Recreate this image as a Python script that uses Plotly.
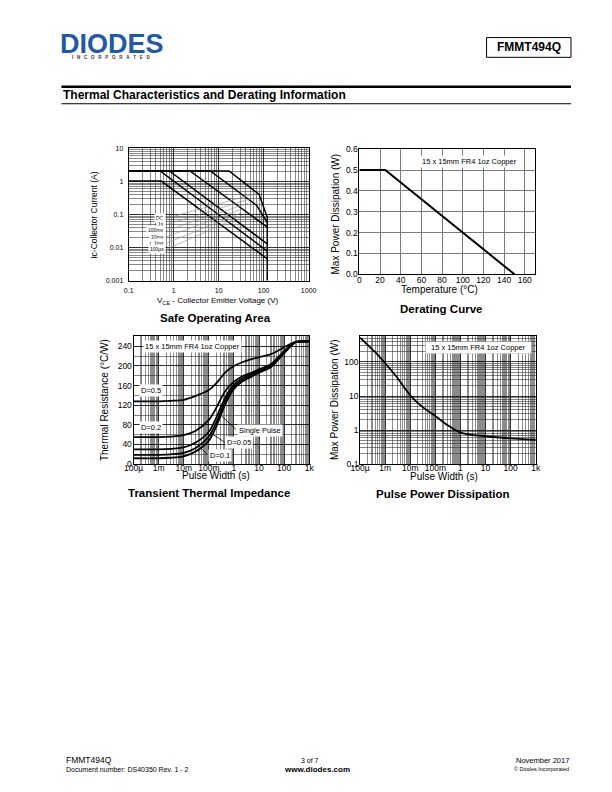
import math
import plotly.graph_objects as go

FONT = "Liberation Sans, Arial, sans-serif"
W, H = 612, 792

# ---------------- data ----------------
# Safe Operating Area (VCE in V, IC in A)
soa_100us_v = [0.1, 17, 79, 107, 120]
soa_100us_i = [2.1, 2.1, 0.41, 0.126, 0.083]
soa_1ms_v = [0.1, 6.5, 70, 120]
soa_1ms_i = [2.1, 2.1, 0.19, 0.057]
soa_10ms_v = [0.1, 2.3, 120]
soa_10ms_i = [2.1, 2.1, 0.042]
soa_100ms_v = [0.1, 0.8, 120]
soa_100ms_i = [2.1, 2.1, 0.013]
soa_1s_v = [0.1, 0.5, 120]
soa_1s_i = [2.1, 2.1, 0.0079]
soa_dc_v = [0.1, 0.53, 120]
soa_dc_i = [1.03, 1.03, 0.0046]
soa_limit_v = [120, 120]
soa_limit_i = [0.083, 0.001]
soa_labels = ["DC", "1s", "100ms", "10ms", "1ms", "100µs"]
soa_xticks = [0.1, 1, 10, 100, 1000]
soa_xtext = ["0.1", "1", "10", "100", "1000"]
soa_yticks = [0.001, 0.01, 0.1, 1, 10]
soa_ytext = ["0.001", "0.01", "0.1", "1", "10"]

# Derating curve
der_temp = [0, 25, 150]
der_power = [0.5, 0.5, 0.0]
der_xticks = [0, 20, 40, 60, 80, 100, 120, 140, 160]
der_yticks = [0.0, 0.1, 0.2, 0.3, 0.4, 0.5, 0.6]

# Transient thermal impedance
tti_t = [1e-4, 1e-3, 3e-3, 1e-2, 3e-2, 0.1, 0.2, 0.3, 0.5, 1, 2, 5, 10, 30, 100, 200, 300, 1000]
tti_d05 = [128, 128, 129, 131, 139, 151, 165, 176, 189, 200, 207, 214, 218, 224, 238, 246, 249, 250]
tti_d02 = [55, 55, 56, 59, 68, 90, 115, 133, 152, 168, 178, 186, 193, 204, 230, 244, 249, 250]
tti_d01 = [30, 30, 31, 34, 44, 66, 95, 116, 140, 162, 174, 183, 190, 201, 228, 243, 249, 250]
tti_d005 = [19, 19, 20, 23, 33, 56, 85, 107, 133, 157, 170, 180, 188, 199, 227, 243, 249, 250]
tti_single = [12, 12, 13, 16, 26, 48, 77, 100, 127, 153, 167, 178, 186, 198, 226, 242, 249, 250]
tti_yticks = [0, 40, 80, 120, 160, 200, 240]

# Pulse power dissipation
ppd_t = [1e-4, 2e-4, 4e-4, 1e-3, 3e-3, 6e-3, 1e-2, 3e-2, 0.1, 0.3, 1, 3, 10, 100, 1000]
ppd_p = [520, 320, 195, 92, 35, 17, 10.5, 4.8, 2.6, 1.4, 0.84, 0.72, 0.66, 0.57, 0.52]
ppd_yticks = [0.1, 1, 10, 100]
ppd_ytext = ["0.1", "1", "10", "100"]

pw_ticks = [1e-4, 1e-3, 1e-2, 1e-1, 1, 10, 100, 1000]
pw_text = ["100µ", "1m", "10m", "100m", "1", "10", "100", "1k"]

board_note = "15 x 15mm FR4 1oz Copper"


# ---------------- helpers ----------------
def PX(x):
    return x / W


def PY(y):
    return 1 - y / H


def minor_log(lo, hi):
    return [m * 10.0 ** e for e in range(lo, hi) for m in range(2, 10)]


def log_axis(dom, rng, tv, tt, minors, anchor, gridc, minorc, minorw, standoff, fs=8):
    return dict(type="log", domain=dom, range=rng, anchor=anchor,
                tickmode="array", tickvals=tv, ticktext=tt, ticks="",
                showline=True, linecolor="black", linewidth=1, mirror=True,
                showgrid=True, gridcolor=gridc, gridwidth=0.8, zeroline=False,
                minor=dict(tickmode="array", tickvals=minors, showgrid=True,
                           gridcolor=minorc, gridwidth=minorw, ticks=""),
                tickfont=dict(size=fs, color="black", family=FONT),
                ticklabelstandoff=standoff, fixedrange=True)


fig = go.Figure()
line = dict(color="black", width=1.5)

# SOA traces
for v, i in [(soa_100us_v, soa_100us_i), (soa_1ms_v, soa_1ms_i), (soa_10ms_v, soa_10ms_i),
             (soa_100ms_v, soa_100ms_i), (soa_1s_v, soa_1s_i), (soa_dc_v, soa_dc_i),
             (soa_limit_v, soa_limit_i)]:
    fig.add_trace(go.Scatter(x=v, y=i, mode="lines", line=line, xaxis="x", yaxis="y",
                             showlegend=False, hoverinfo="skip"))

# Derating
fig.add_trace(go.Scatter(x=der_temp, y=der_power, mode="lines", line=dict(color="black", width=2),
                         xaxis="x2", yaxis="y2", showlegend=False, cliponaxis=False))

# TTI
for ser in [tti_d05, tti_d02, tti_d01, tti_d005, tti_single]:
    fig.add_trace(go.Scatter(x=tti_t, y=ser, mode="lines",
                             line=dict(color="black", width=1.8, shape="spline", smoothing=0.8),
                             xaxis="x3", yaxis="y3", showlegend=False))

# PPD
fig.add_trace(go.Scatter(x=ppd_t, y=ppd_p, mode="lines",
                         line=dict(color="black", width=1.8, shape="spline", smoothing=0.6),
                         xaxis="x4", yaxis="y4", showlegend=False))

layout = dict(
    width=W, height=H, autosize=False, margin=dict(l=0, r=0, t=0, b=0, pad=0),
    paper_bgcolor="white", plot_bgcolor="white", showlegend=False,
    font=dict(family=FONT, color="black"),
)

# SOA axes
layout["xaxis"] = log_axis([PX(122.3), PX(307.7)], [-1, 3], soa_xticks, soa_xtext, minor_log(-1, 3),
                           "y", "#000000", "#3a3a3a", 0.6, 3, fs=7)
layout["yaxis"] = log_axis([PY(279.3), PY(145.3)], [-3, 1], soa_yticks, soa_ytext, minor_log(-3, 1),
                           "x", "#000000", "#3a3a3a", 0.6, 3, fs=7)

# Derating axes
layout["xaxis2"] = dict(domain=[PX(360), PX(541)], range=[0, 170], anchor="y2", tickmode="array",
                        tickvals=der_xticks, ticktext=[str(t) for t in der_xticks], ticks="",
                        showline=True, linecolor="black", linewidth=1, mirror=True,
                        showgrid=True, gridcolor="#7a7a7a", gridwidth=1, zeroline=False,
                        tickfont=dict(size=8.5, family=FONT, color="black"), ticklabelstandoff=-2,
                        fixedrange=True)
layout["yaxis2"] = dict(domain=[PY(272.7), PY(146)], range=[0, 0.6], anchor="x2", tickmode="array",
                        tickvals=der_yticks, ticktext=["%.1f" % t for t in der_yticks], ticks="",
                        showline=True, linecolor="black", linewidth=1, mirror=True,
                        showgrid=True, gridcolor="#7a7a7a", gridwidth=1, zeroline=False,
                        tickfont=dict(size=8.5, family=FONT, color="black"), ticklabelstandoff=-1,
                        fixedrange=True)

# TTI axes
layout["xaxis3"] = log_axis([PX(127.3), PX(308.3)], [-4, 3], pw_ticks, pw_text, minor_log(-4, 3),
                            "y3", "#000000", "#8c8c8c", 1.3, -4, fs=8.5)
layout["yaxis3"] = dict(domain=[PY(465), PY(335.7)], range=[0, 260], anchor="x3", tickmode="array",
                        tickvals=tti_yticks, ticktext=[str(t) for t in tti_yticks], ticks="",
                        showline=True, linecolor="black", linewidth=1, mirror=True,
                        showgrid=True, gridcolor="#000000", gridwidth=0.7, zeroline=False,
                        minor=dict(dtick=20, showgrid=True, gridcolor="#333333", gridwidth=0.6, ticks=""),
                        tickfont=dict(size=8.5, family=FONT, color="black"), ticklabelstandoff=-1,
                        fixedrange=True)

# PPD axes
layout["xaxis4"] = log_axis([PX(360.7), PX(541.7)], [-4, 3], pw_ticks, pw_text, minor_log(-4, 3),
                            "y4", "#000000", "#8c8c8c", 1.3, -4, fs=8.5)
layout["yaxis4"] = log_axis([PY(465), PY(335.7)], [-1, 2.75], ppd_yticks, ppd_ytext, minor_log(-1, 3),
                            "x4", "#000000", "#333333", 0.6, -1, fs=8.5)

ann = []
shapes = []


def text(x, y, s, size, bold=False, xa="center", ya="middle", angle=0, color="black", bg=None, family=FONT):
    d = dict(x=PX(x), y=PY(y), xref="paper", yref="paper", text=("<b>%s</b>" % s) if bold else s,
             showarrow=False, xanchor=xa, yanchor=ya, textangle=angle,
             font=dict(size=size, color=color, family=family))
    if bg:
        d["bgcolor"] = bg
        d["borderpad"] = 1
    ann.append(d)


def seg(x0, y0, x1, y1, color="black", width=1):
    shapes.append(dict(type="line", xref="paper", yref="paper", x0=PX(x0), y0=PY(y0), x1=PX(x1), y1=PY(y1),
                       line=dict(color=color, width=width)))


# ---- header ----
text(105, 40, "DIODES", 27, bold=True, color="#1e5aa8")
text(105, 53, "I&nbsp;&nbsp;&nbsp;N&nbsp;&nbsp;&nbsp;C&nbsp;&nbsp;&nbsp;O&nbsp;&nbsp;&nbsp;R&nbsp;&nbsp;&nbsp;P&nbsp;&nbsp;&nbsp;O&nbsp;&nbsp;&nbsp;R&nbsp;&nbsp;&nbsp;A&nbsp;&nbsp;&nbsp;T&nbsp;&nbsp;&nbsp;E&nbsp;&nbsp;&nbsp;D",
     4.5, bold=True, color="#333333")
shapes.append(dict(type="rect", xref="paper", yref="paper", x0=PX(491), x1=PX(578), y0=PY(53), y1=PY(33),
                   line=dict(color="black", width=1)))
text(534.5, 43, "FMMT494Q", 12, bold=True)
seg(53, 82.7, 578, 82.7, width=2.5)
text(53, 91.5, "Thermal Characteristics and Derating Information", 12, bold=True, xa="left")
seg(53, 100, 578, 100, width=1)

# ---- SOA texts ----
text(214, 300, "V<sub>CE</sub> - Collector Emitter Voltage (V)", 8)
text(87, 212, "Ic-Collector Current (A)", 8.5, angle=-90)
text(212, 317, "Safe Operating Area", 11.5, bold=True)
lab_y = [216, 222.3, 228.3, 234.7, 241, 247.3]
tips = [(253, 191), (249, 196), (245, 201), (241, 206), (237, 211), (233, 216)]
for s, ly, (tx, ty) in zip(soa_labels, lab_y, tips):
    seg(161.5, ly, tx, ty, color="#8a8a8a", width=0.6)
    text(161, ly, s, 5, xa="right", bg="white")

# ---- Derating texts ----
text(473.7, 158, board_note, 7.5, bg="white")
text(442, 288, "Temperature (°C)", 10)
text(335, 212, "Max Power Dissipation (W)", 10, angle=-90)
text(444, 308, "Derating Curve", 11.5, bold=True)

# ---- TTI texts ----
text(188.3, 345.7, board_note, 7.5, bg="white")
text(145, 390, "D=0.5", 7.5, bg="white")
text(145, 428.3, "D=0.2", 7.5, bg="white")
seg(233, 430, 216.7, 415, width=0.8)
text(234, 430.5, "Single Pulse", 7.5, xa="left", bg="white")
seg(221.5, 443, 206.7, 433.3, width=0.8)
text(222, 443.5, "D=0.05", 7.5, xa="left", bg="white")
seg(203, 455, 193.3, 445, width=0.8)
text(203.5, 456, "D=0.1", 7.5, xa="left", bg="white")
text(212, 477, "Pulse Width (s)", 10)
text(98, 400, "Thermal Resistance (°C/W)", 10, angle=-90)
text(205, 494.5, "Transient Thermal Impedance", 11.5, bold=True)

# ---- PPD texts ----
shapes.append(dict(type="rect", xref="paper", yref="paper", x0=PX(428), x1=PX(537), y0=PY(353), y1=PY(341),
                   line=dict(color="#bbbbbb", width=0.5), fillcolor="white", layer="above"))
text(482.5, 347, board_note, 7.5)
text(447, 478, "Pulse Width (s)", 10)
text(335, 400, "Max Power Dissipation (W)", 10, angle=-90)
text(446, 495.5, "Pulse Power Dissipation", 11.5, bold=True)

# ---- footer ----
text(56, 765, "FMMT494Q", 8.5, xa="left")
text(56, 774, "Document number: DS40350 Rev. 1 - 2", 7, xa="left")
text(309, 765, "3 of 7", 7)
text(316.5, 774, "www.diodes.com", 8, bold=True)
text(578, 765, "November 2017", 7.5, xa="right")
text(578, 773.5, "© Diodes Incorporated", 5.5, xa="right")

layout["annotations"] = ann
layout["shapes"] = shapes
fig.update_layout(**layout)
fig.write_html("out.html", config={"displayModeBar": False, "staticPlot": True},
               post_script="document.body.style.margin='0';document.body.style.overflow='hidden';")
